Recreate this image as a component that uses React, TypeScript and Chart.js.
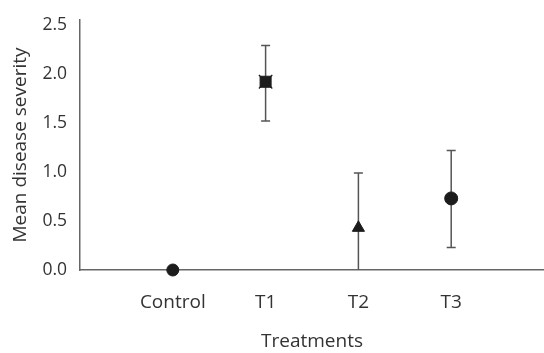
import React, { useEffect, useRef } from "react";
import { Chart, registerables } from "chart.js";

Chart.register(...registerables);

const categories = ["Control", "T1", "T2", "T3"];
const means = [0, 1.92, 0.43, 0.73];
const lowerBounds: (number | null)[] = [null, 1.52, 0, 0.23];
const upperBounds: (number | null)[] = [null, 2.29, 0.99, 1.22];
const yTickValues = [0, 0.5, 1.0, 1.5, 2.0, 2.5];
const markerStyles = ["circle", "rect", "triangle", "circle"];
const markerRadii = [6, 7.8, 7, 6.5];

const FONT = "'Open Sans', sans-serif";
const TEXT = "#333333";

const errorBarPlugin = {
  id: "errorBars",
  beforeDatasetsDraw(chart: any) {
    const { ctx, scales } = chart;
    const xs = scales.x;
    const ys = scales.y;
    ctx.save();
    ctx.strokeStyle = "#555555";
    ctx.lineWidth = 1.5;
    categories.forEach((_, i) => {
      const lo = lowerBounds[i];
      const hi = upperBounds[i];
      if (lo == null || hi == null) return;
      const px = xs.getPixelForValue(i + 1);
      const pLo = ys.getPixelForValue(lo);
      const pHi = ys.getPixelForValue(hi);
      ctx.beginPath();
      ctx.moveTo(px, pLo);
      ctx.lineTo(px, pHi);
      ctx.moveTo(px - 4.5, pHi);
      ctx.lineTo(px + 4.5, pHi);
      if (lo > 0) {
        ctx.moveTo(px - 4.5, pLo);
        ctx.lineTo(px + 4.5, pLo);
      }
      ctx.stroke();
    });
    ctx.restore();
  },
};

export default function App() {
  const canvasRef = useRef<HTMLCanvasElement | null>(null);

  useEffect(() => {
    if (!canvasRef.current) return;
    const chart = new Chart(canvasRef.current, {
      type: "scatter",
      data: {
        datasets: [
          {
            data: means.map((m, i) => ({ x: i + 1, y: m })),
            pointStyle: markerStyles as any,
            pointRadius: markerRadii,
            pointBackgroundColor: "#1c1c1c",
            pointBorderColor: "#1c1c1c",
            pointBorderWidth: 1,
            clip: false,
          },
          {
            data: [{ x: 2, y: means[1] }],
            pointStyle: "crossRot",
            pointRadius: 9.5,
            pointBorderColor: "#1c1c1c",
            pointBorderWidth: 1.2,
            clip: false,
          },
        ],
      },
      options: {
        animation: false,
        responsive: false,
        layout: { autoPadding: false, padding: { top: 20, right: 0, bottom: 0, left: 0 } },
        plugins: {
          legend: { display: false },
          tooltip: { enabled: false },
        },
        scales: {
          x: {
            type: "linear",
            min: 0,
            max: 5,
            grid: { display: false, drawTicks: true, tickLength: 21 },
            border: { display: true, color: "#666666", width: 1.5 },
            ticks: {
              stepSize: 1,
              padding: 0,
              color: TEXT,
              font: { family: FONT, size: 19 },
              callback: (v: any) => {
                const idx = Number(v) - 1;
                return Number.isInteger(Number(v)) && idx >= 0 && idx < categories.length
                  ? categories[idx]
                  : "";
              },
              maxRotation: 0,
              autoSkip: false,
            },
            title: {
              display: true,
              text: "Treatments",
              color: TEXT,
              font: { family: FONT, size: 19 },
              padding: { top: 0, bottom: 0 },
            },
            afterFit: (s: any) => {
              s.height = 83;
              s.paddingLeft = 0;
              s.paddingRight = 0;
            },
          },
          y: {
            min: 0,
            max: 2.55,
            grid: { display: false, drawTicks: false },
            border: { display: true, color: "#666666", width: 1.5 },
            afterBuildTicks: (s: any) => {
              s.ticks = yTickValues.map((v) => ({ value: v }));
            },
            ticks: {
              padding: 13,
              color: TEXT,
              font: { family: FONT, size: 17.5 },
              callback: (v: any) => Number(v).toFixed(1),
            },
            title: {
              display: true,
              text: "Mean disease severity",
              color: TEXT,
              font: { family: FONT, size: 19 },
              padding: { top: 9, bottom: 0 },
            },
            afterFit: (s: any) => {
              s.width = 80;
              s.paddingTop = 0;
              s.paddingBottom = 0;
            },
          },
        },
      },
      plugins: [errorBarPlugin],
    });
    return () => chart.destroy();
  }, []);

  return (
    <div style={{ position: "absolute", left: 0, top: 0, width: 544, height: 353, background: "#fff" }}>
      <canvas ref={canvasRef} width={544} height={353} style={{ width: 544, height: 353 }} />
    </div>
  );
}
